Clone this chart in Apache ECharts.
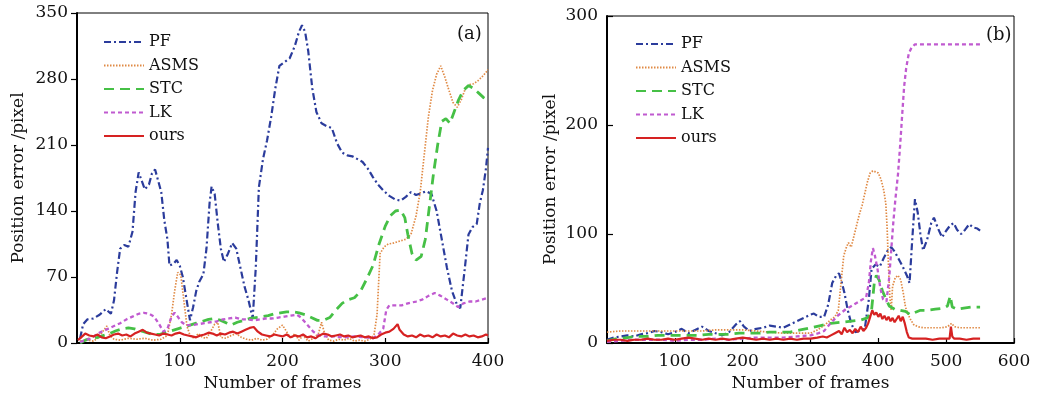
<!DOCTYPE html>
<html><head><meta charset="utf-8">
<script src="https://cdn.jsdelivr.net/npm/echarts@6/dist/echarts.min.js"></script>
<style>html,body{margin:0;padding:0;background:#fff}#c{width:1040px;height:400px}</style>
</head><body><div id="c"></div>
<script>
var seriesNames = ['PF','ASMS','STC','LK','ours'];
var leftXTicks = [0,100,200,300,400];
var leftYTicks = [0,70,140,210,280,350];
var rightXTicks = [0,100,200,300,400,500,600];
var rightYTicks = [0,100,200,300];

var leftPF = [[3,5],[6,20],[10,25],[16,26],[22,30],[28,36],[33,31],[36,45],[39,75],[42,100],[46,104],[50,102],[54,118],[57,160],[60,181],[63,172],[66,163],[70,168],[73,180],[76,184],[79,172],[82,160],[85,130],[88,110],[90,82],[94,84],[97,88],[100,82],[103,70],[106,50],[110,24],[113,38],[116,55],[119,65],[123,73],[126,100],[129,148],[131,166],[134,158],[137,127],[140,100],[143,86],[147,95],[151,106],[155,100],[159,80],[163,60],[167,45],[171,26],[174,80],[177,165],[181,195],[185,215],[189,240],[193,270],[197,294],[202,298],[207,302],[212,315],[216,330],[219,337],[222,330],[225,310],[229,270],[233,245],[238,233],[243,230],[248,228],[253,212],[258,202],[263,199],[268,198],[273,195],[278,192],[283,185],[288,176],[293,168],[298,162],[304,156],[310,152],[315,151],[320,155],[325,160],[330,157],[335,159],[340,161],[345,158],[350,140],[355,110],[360,80],[365,55],[370,40],[373,37],[377,75],[381,115],[385,123],[389,126],[392,148],[395,162],[398,185],[400,207]];
var leftASMS = [[3,2],[10,3],[16,2],[20,5],[25,12],[29,18],[32,8],[36,4],[42,3],[50,5],[58,4],[66,5],[74,3],[82,4],[88,8],[92,30],[95,55],[98,75],[101,72],[104,45],[107,18],[110,8],[114,5],[118,10],[122,6],[126,5],[130,12],[134,20],[137,22],[140,6],[145,5],[150,8],[155,10],[160,6],[165,4],[170,3],[175,5],[180,3],[185,4],[190,8],[195,15],[200,19],[204,12],[208,5],[212,10],[216,3],[220,8],[225,2],[230,5],[235,10],[238,22],[241,10],[245,3],[250,2],[255,4],[260,3],[265,5],[270,2],[275,3],[280,2],[285,4],[289,8],[292,30],[295,95],[299,102],[303,105],[308,106],[314,108],[320,110],[325,115],[330,135],[334,160],[338,200],[342,240],[346,268],[350,285],[354,294],[358,282],[362,268],[366,255],[370,250],[374,258],[378,270],[382,274],[386,275],[390,278],[394,282],[398,287],[400,290]];
var leftSTC = [[3,0],[8,3],[14,5],[20,6],[26,8],[32,10],[38,13],[44,15],[50,16],[56,15],[62,13],[68,11],[74,9],[80,9],[86,11],[92,13],[98,15],[104,17],[110,19],[116,21],[122,23],[128,25],[134,26],[140,24],[146,21],[150,19],[156,22],[162,24],[168,26],[174,27],[180,28],[186,29],[192,31],[198,32],[204,33],[210,33],[216,32],[222,30],[228,27],[234,24],[240,24],[246,27],[252,35],[258,42],[264,46],[270,48],[276,55],[282,68],[288,82],[294,105],[300,124],[305,135],[310,140],[315,141],[319,133],[322,115],[326,95],[330,88],[335,92],[339,110],[343,145],[347,180],[351,210],[355,235],[359,238],[363,233],[367,245],[371,257],[376,268],[381,273],[386,270],[391,265],[396,260],[400,257]];
var leftLK = [[3,1],[8,3],[14,5],[20,10],[26,13],[30,15],[36,18],[42,21],[48,25],[54,28],[60,31],[65,32],[70,31],[75,28],[80,20],[84,12],[88,15],[92,28],[95,32],[98,28],[102,22],[106,19],[112,19],[118,20],[124,21],[130,22],[136,23],[142,25],[148,26],[154,27],[160,25],[166,25],[172,24],[178,25],[184,26],[190,26],[196,27],[202,28],[208,29],[214,30],[218,27],[222,22],[226,17],[230,12],[235,8],[240,7],[250,7],[260,6],[270,7],[280,6],[288,5],[294,10],[298,15],[301,35],[304,40],[310,40],[316,40],[322,42],[330,44],[336,46],[342,50],[348,53],[354,50],[360,46],[366,42],[371,38],[376,42],[382,44],[388,44],[394,46],[400,48]];
var leftOurs = [[1,3],[4,6],[8,10],[12,8],[16,7],[20,9],[24,6],[28,5],[32,7],[36,9],[40,10],[44,8],[48,9],[52,7],[56,10],[60,12],[64,14],[68,11],[72,10],[76,9],[80,8],[84,10],[88,9],[92,8],[96,10],[100,11],[104,9],[108,8],[112,7],[116,6],[120,8],[124,9],[128,11],[132,10],[136,8],[140,10],[144,9],[148,11],[152,12],[156,10],[160,12],[164,14],[168,16],[172,17],[176,12],[180,9],[184,8],[188,7],[192,9],[196,8],[200,7],[204,9],[208,6],[212,8],[216,7],[220,9],[224,6],[228,7],[232,5],[236,8],[240,10],[244,9],[248,7],[252,8],[256,9],[260,7],[264,8],[268,6],[272,7],[276,8],[280,6],[284,7],[288,5],[292,6],[296,9],[300,11],[304,12],[308,15],[312,20],[314,14],[318,9],[322,7],[326,8],[330,6],[334,9],[338,7],[342,8],[346,6],[350,9],[354,7],[358,8],[362,6],[366,10],[370,8],[374,7],[378,9],[382,7],[386,8],[390,6],[394,7],[398,9],[400,8]];

var rightPF = [[0,3],[10,5],[20,6],[30,7],[40,6],[50,8],[60,9],[70,11],[80,10],[90,8],[100,10],[110,13],[120,9],[130,12],[140,15],[150,11],[160,9],[170,7],[180,10],[190,17],[196,20],[202,15],[210,11],[220,13],[230,14],[240,16],[250,15],[260,14],[270,17],[280,20],[290,23],[300,26],[305,27],[312,24],[320,24],[326,35],[332,55],[338,62],[342,64],[346,56],[350,46],[355,30],[360,18],[366,10],[372,11],[380,13],[386,40],[390,68],[396,72],[402,70],[408,78],[414,85],[419,88],[424,84],[430,77],[436,70],[442,62],[446,55],[450,95],[454,132],[458,120],[462,100],[466,85],[472,95],[478,110],[482,115],[488,105],[494,97],[500,103],[506,108],[511,110],[516,104],[522,100],[528,104],[534,109],[540,106],[546,105],[550,103]];
var rightASMS = [[0,10],[20,11],[40,11],[60,11],[80,11],[100,11],[120,11],[140,11],[160,12],[180,12],[200,12],[220,11],[240,10],[260,9],[280,9],[300,9],[310,12],[320,16],[329,21],[336,24],[341,30],[345,55],[349,80],[353,88],[356,92],[360,88],[364,98],[368,108],[372,118],[376,126],[380,137],[384,148],[388,156],[392,158],[396,157],[400,156],[404,150],[408,140],[411,128],[413,105],[415,70],[417,42],[419,30],[421,52],[425,60],[429,62],[433,58],[437,45],[440,33],[444,26],[448,21],[452,17],[458,15],[466,14],[480,14],[494,14],[502,15],[508,18],[512,15],[520,14],[530,14],[540,14],[550,14]];
var rightSTC = [[0,2],[15,4],[30,5],[45,6],[60,6],[75,7],[90,7],[105,7],[120,7],[135,7],[150,8],[165,8],[180,8],[195,9],[210,9],[225,9],[240,10],[255,10],[270,10],[285,12],[300,14],[315,16],[330,18],[345,19],[360,20],[374,21],[384,23],[390,30],[394,55],[397,62],[401,58],[406,48],[410,42],[416,34],[424,31],[432,30],[440,29],[447,26],[454,28],[462,30],[472,30],[484,31],[496,32],[502,34],[506,43],[509,33],[516,31],[526,32],[538,33],[550,33]];
var rightLK = [[0,1],[20,2],[40,3],[60,3],[80,3],[100,2],[120,3],[140,3],[160,4],[180,3],[200,4],[220,5],[240,5],[260,5],[280,6],[300,7],[312,9],[320,11],[328,17],[334,21],[340,25],[346,28],[352,31],[358,33],[366,36],[374,39],[382,42],[386,55],[389,75],[392,87],[395,80],[399,67],[403,50],[407,40],[412,38],[416,60],[419,85],[422,110],[425,131],[429,155],[432,180],[435,208],[438,235],[441,252],[445,266],[449,271],[454,274],[470,274],[490,274],[510,274],[530,274],[550,274]];
var rightOurs = [[0,2],[10,3],[20,3],[30,2],[40,3],[50,3],[60,4],[70,3],[80,3],[90,4],[100,3],[110,4],[120,5],[130,4],[140,3],[150,4],[160,3],[170,4],[180,3],[190,4],[200,5],[210,4],[220,3],[230,4],[240,3],[250,4],[260,3],[270,4],[280,3],[290,4],[300,4],[310,5],[318,6],[324,5],[330,7],[336,9],[342,11],[346,8],[350,14],[354,10],[358,12],[362,9],[366,13],[370,10],[374,15],[378,11],[382,14],[385,18],[388,24],[391,30],[394,26],[397,28],[400,24],[403,27],[406,22],[409,25],[412,21],[415,24],[418,20],[421,23],[424,19],[427,22],[430,25],[433,20],[436,24],[439,18],[442,10],[445,5],[450,4],[460,4],[470,4],[480,3],[490,4],[500,4],[505,4],[507,15],[509,6],[512,4],[520,4],[530,3],[540,4],[550,4]];

var FONT = 'DejaVu Serif';
var styles = {
  PF:   {color:'#2b3c9c', width:2.2, type:[7,3,2,3]},
  ASMS: {color:'#e08a45', width:1.7, type:[1.5,1.5]},
  STC:  {color:'#46c046', width:2.8, type:[10,6]},
  LK:   {color:'#c05ad0', width:2.3, type:[4,3]},
  ours: {color:'#d62222', width:2.2, type:'solid'}
};
var leftData = {PF:leftPF, ASMS:leftASMS, STC:leftSTC, LK:leftLK, ours:leftOurs};
var rightData = {PF:rightPF, ASMS:rightASMS, STC:rightSTC, LK:rightLK, ours:rightOurs};

function mkSeries(dataMap, idx){
  return seriesNames.map(function(n){
    var s = styles[n];
    return {name:n, type:'line', xAxisIndex:idx, yAxisIndex:idx, data:dataMap[n],
      symbol:'none', smooth:false, animation:false, z: n==='ours'?5:3,
      lineStyle:{color:s.color, width:s.width, type:s.type}, itemStyle:{color:s.color}};
  });
}
function xAx(idx, ticks){
  return {type:'value', gridIndex:idx, min:ticks[0], max:ticks[ticks.length-1], interval:ticks[1]-ticks[0],
    name:'Number of frames', nameLocation:'middle', nameGap:29,
    nameTextStyle:{fontFamily:FONT, fontSize:17, color:'#111'},
    axisLine:{lineStyle:{color:'#000', width:2}},
    axisTick:{inside:true, length:5, lineStyle:{color:'#000', width:1.2}},
    axisLabel:{fontFamily:FONT, fontSize:17, color:'#111', margin:10,
      formatter:function(v){return v===0?'':String(v);}},
    splitLine:{show:false}};
}
function yAx(idx, ticks, inside, gap){
  return {type:'value', gridIndex:idx, min:ticks[0], max:ticks[ticks.length-1], interval:ticks[1]-ticks[0],
    name:'Position error /pixel', nameLocation:'middle', nameGap:gap,
    nameTextStyle:{fontFamily:FONT, fontSize:17, color:'#111'},
    axisLine:{lineStyle:{color:'#000', width:2}},
    axisTick:{inside:inside, length:6, lineStyle:{color:'#000', width:1.2}},
    axisLabel:{fontFamily:FONT, fontSize:17, color:'#111', margin:9},
    splitLine:{show:false}};
}
function legendAt(left, top){
  return {left:left, top:top, orient:'vertical', itemWidth:40, itemHeight:14, itemGap:7.5,
    itemStyle:{opacity:0, borderWidth:0},
    textStyle:{fontFamily:FONT, fontSize:16, color:'#111'}, data:seriesNames, selectedMode:false};
}
var chart = echarts.init(document.getElementById('c'), null, {renderer:'canvas'});
chart.setOption({
  animation:false,
  backgroundColor:'#fff',
  title:[
    {text:'(a)', left:452, top:20, textStyle:{fontFamily:FONT, fontSize:18, fontWeight:'normal', color:'#111'}},
    {text:'(b)', left:981, top:21, textStyle:{fontFamily:FONT, fontSize:18, fontWeight:'normal', color:'#111'}}
  ],
  legend:[legendAt(98,29), legendAt(630,31)],
  grid:[
    {left:77, top:13, width:411, height:330, show:true, borderColor:'#000', borderWidth:1},
    {left:607, top:16, width:407, height:327, show:true, borderColor:'#000', borderWidth:1}
  ],
  xAxis:[xAx(0,leftXTicks), xAx(1,rightXTicks)],
  yAxis:[yAx(0,leftYTicks,false,50), yAx(1,rightYTicks,true,48)],
  series: mkSeries(leftData,0).concat(mkSeries(rightData,1))
});
</script></body></html>
